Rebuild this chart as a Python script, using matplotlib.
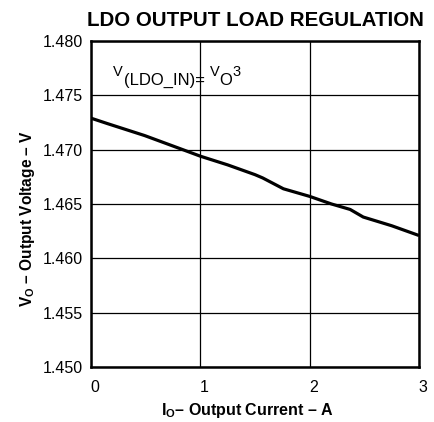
"""
LDO output load regulation curve
"""

import matplotlib
matplotlib.use("Agg")
import matplotlib.pyplot as plt
import matplotlib.transforms as mtransforms
import numpy as np

plt.rcParams['font.family'] = ['Liberation Sans', 'DejaVu Sans']
plt.rcParams['mathtext.fontset'] = 'custom'
plt.rcParams['mathtext.rm'] = 'Liberation Sans'
plt.rcParams['mathtext.it'] = 'Liberation Sans'
plt.rcParams['mathtext.bf'] = 'Liberation Sans:bold'

# output current (A) and output voltage (V)
current = [0.0, 0.15, 0.49, 0.84, 1.0, 1.25, 1.5, 1.57, 1.76, 2.0, 2.2, 2.37, 2.49, 2.75, 3.0]
voltage = [1.4729, 1.4724, 1.4713, 1.4700, 1.4694, 1.4686, 1.4677, 1.4674, 1.4664, 1.4657, 1.4650, 1.4645, 1.4638, 1.4630, 1.4621]

xticks = [0, 1, 2, 3]
yticks = [1.450, 1.455, 1.460, 1.465, 1.470, 1.475, 1.480]

W, H = 435, 422
fig = plt.figure(figsize=(W / 100, H / 100), dpi=100)
ax = fig.add_axes([91 / W, 1 - 367 / H, 328 / W, 326 / H])

ax.plot(current, voltage, color='black', linewidth=2.3, solid_capstyle='butt')

ax.set_xlim(0, 3)
ax.set_ylim(1.450, 1.480)
ax.set_xticks(xticks)
ax.set_yticks(yticks)
ax.set_xticklabels([str(t) for t in xticks], fontsize=11.5)
ax.set_yticklabels(['%.3f' % t for t in yticks], fontsize=11.5)
ax.tick_params(length=0, pad=6)
ax.tick_params(axis='x', pad=9)

# nudge x labels slightly right
offset = mtransforms.ScaledTranslation(4 / 100, 0, fig.dpi_scale_trans)
for lbl in ax.get_xticklabels():
    lbl.set_transform(lbl.get_transform() + offset)

ax.grid(True, color='black', linewidth=0.9)
for s in ax.spines.values():
    s.set_linewidth(1.8)

ax.set_title('LDO OUTPUT LOAD REGULATION', fontsize=14.8, fontweight='bold', pad=11)
ax.set_xlabel(r'I$_{\mathbf{O}}$– Output Current – A', fontsize=11.5, fontweight='bold')
ax.set_ylabel(r'V$_{\mathbf{O}}$ – Output Voltage – V', fontsize=11.2, fontweight='bold')
ax.xaxis.set_label_coords(156 / 328, -34 / 326)
ax.yaxis.set_label_coords(-54 / 328, 0.457)

# condition note, built piece by piece: (text, size, rise px, gap after px)
note = [('V', 10.5, 9, 1), ('(LDO_IN)=', 12, 0, 5), ('V', 10.5, 9, 0), ('O', 12, 0, 0), ('3', 10.5, 9, 0)]
renderer = fig.canvas.get_renderer()
x = 113
base = H - 85
for txt, size, rise, gap in note:
    t = fig.text(x / W, (base + rise) / H, txt, fontsize=size, va='baseline', ha='left')
    x = t.get_window_extent(renderer).x1 + gap

fig.savefig('out.png', dpi=100)
